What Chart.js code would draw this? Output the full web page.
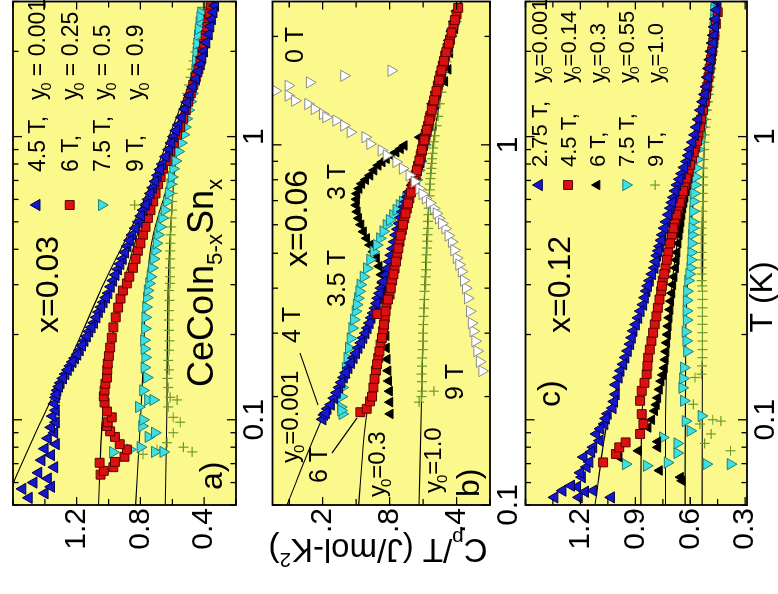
<!DOCTYPE html>
<html>
<head>
<meta charset="utf-8">
<script src="https://cdn.jsdelivr.net/npm/chart.js@4.4.1/dist/chart.umd.min.js"></script>
<style>
html,body{margin:0;padding:0;background:#fff;overflow:hidden;width:778px;height:594px}
#view{position:absolute;left:0;top:0;width:778px;height:594px;overflow:hidden;background:#fff}
#frame{position:absolute;left:0;top:0;width:600px;height:778px;transform-origin:0 0;transform:translate(0px,594px) rotate(-90deg)}
#frame canvas{position:absolute;left:0}
</style>
</head>
<body>
<div id="view"><div id="frame">
<canvas id="cA" width="600" height="265" style="top:0px"></canvas>
<canvas id="cB" width="600" height="253" style="top:265px"></canvas>
<canvas id="cC" width="600" height="260" style="top:518px"></canvas>
</div></div>
<script>
// ================= DATA (T in K, Cp/T in J/mol-K^2) =================
// ---- panel a : x = 0.03 ----
const A_SERIES = ['4.5 T', '6 T', '7.5 T', '9 T'];
const A_Y0 = ['0.001', '0.25', '0.5', '0.9'];
const A_45T = [[0.053,1.50],[0.055,1.40],[0.057,1.54],[0.058,1.36],[0.060,1.47],[0.062,1.38],[0.065,1.44],[0.068,1.34],[0.072,1.42],[0.075,1.36],[0.079,1.40],[0.082,1.33],[0.086,1.38],[0.090,1.34],[0.094,1.36],[0.098,1.33],[0.103,1.35],[0.108,1.33],[0.114,1.34],[0.120,1.33],[0.127,1.32],[0.135,1.30],[0.145,1.27],[0.155,1.24],[0.165,1.21],[0.176,1.18],[0.190,1.15],[0.205,1.12],[0.220,1.09],[0.240,1.06],[0.260,1.03],[0.280,1.00],[0.310,0.97],[0.340,0.94],[0.370,0.91],[0.410,0.88],[0.450,0.85],[0.500,0.81],[0.550,0.78],[0.600,0.75],[0.660,0.72],[0.730,0.69],[0.800,0.66],[0.900,0.62],[1.000,0.59],[1.100,0.56],[1.250,0.52],[1.400,0.49],[1.600,0.45],[1.800,0.42],[2.000,0.40],[2.300,0.37],[2.600,0.35],[2.900,0.33],
  [0.123,1.325],[0.131,1.31],[0.140,1.285],[0.150,1.255],[0.160,1.225],[0.170,1.195],[0.183,1.165],[0.197,1.135],[0.212,1.105],[0.230,1.075],[0.250,1.045],[0.270,1.015],[0.295,0.985],[0.325,0.955],[0.355,0.925],[0.39,0.895],[0.43,0.865],[0.475,0.83],[0.525,0.795],[0.575,0.765],[0.63,0.735],[0.695,0.705],[0.765,0.675],[0.85,0.64],[0.95,0.605],[1.05,0.575],[1.17,0.54],[1.32,0.505],[1.5,0.47],[1.7,0.435],[1.9,0.41],[2.15,0.385],[2.45,0.36],[2.75,0.34]];
const A_6T = [[0.064,1.05],[0.066,1.03],[0.068,0.97],[0.0705,1.056],[0.071,0.96],[0.074,0.90],[0.0785,0.885],[0.082,0.93],[0.087,0.96],[0.091,0.99],[0.095,1.01],[0.098,1.005],[0.102,0.98],[0.107,1.01],[0.115,1.025],[0.121,1.03],[0.127,1.025],[0.134,1.02],[0.141,1.01],[0.150,1.008],[0.158,1.005],[0.168,0.998],[0.180,0.99],[0.195,0.98],[0.212,0.97],[0.230,0.955],[0.249,0.94],[0.268,0.925],[0.286,0.91],[0.303,0.885],[0.344,0.847],[0.395,0.816],[0.450,0.784],[0.516,0.753],[0.590,0.72],[0.679,0.689],[0.770,0.658],[0.886,0.613],[1.016,0.57],[1.156,0.531],[1.327,0.50],[1.522,0.468],[1.730,0.436],[1.988,0.411],[2.280,0.39],[2.594,0.373],[2.860,0.36],
  [0.32,0.87],[0.37,0.83],[0.42,0.80],[0.48,0.768],[0.55,0.737],[0.63,0.705],[0.72,0.673],[0.82,0.635],[0.95,0.59],[1.08,0.55],[1.24,0.515],[1.42,0.484],[1.62,0.452],[1.85,0.423],[2.13,0.40],[2.44,0.38],[2.72,0.366]];
const A_75T = [[0.0768,0.973],[0.0785,0.866],[0.080,0.80],[0.077,0.71],[0.077,0.657],[0.087,0.75],[0.090,0.71],[0.095,0.79],[0.100,0.784],[0.111,0.81],[0.1175,0.753],[0.1175,0.72],[0.127,0.784],[0.141,0.76],[0.153,0.775],[0.166,0.77],[0.178,0.775],[0.191,0.778],[0.210,0.772],[0.230,0.77],[0.250,0.765],[0.270,0.76],[0.286,0.755],[0.303,0.746],[0.344,0.728],[0.395,0.708],[0.450,0.69],[0.516,0.664],[0.590,0.634],[0.679,0.613],[0.770,0.595],[0.886,0.563],[1.016,0.53],[1.156,0.512],[1.330,0.487],[1.522,0.468],[1.730,0.455],[1.988,0.449],[2.280,0.44],[2.532,0.43],[2.740,0.42],
  [0.32,0.737],[0.37,0.718],[0.42,0.699],[0.48,0.677],[0.55,0.649],[0.63,0.623],[0.72,0.604],[0.82,0.58],[0.95,0.546],[1.08,0.521],[1.24,0.50],[1.42,0.477],[1.62,0.461],[1.85,0.452],[2.13,0.445],[2.4,0.435],[2.64,0.425]];
const A_9T = [[0.0755,0.784],[0.0785,0.696],[0.083,0.633],[0.090,0.594],[0.080,0.53],[0.077,0.475],[0.098,0.55],[0.102,0.594],[0.111,0.626],[0.1175,0.57],[0.120,0.613],[0.130,0.626],[0.140,0.63],[0.150,0.62],[0.162,0.625],[0.176,0.62],[0.190,0.618],[0.207,0.62],[0.225,0.622],[0.243,0.62],[0.264,0.618],[0.286,0.62],[0.303,0.614],[0.344,0.614],[0.395,0.612],[0.450,0.61],[0.516,0.605],[0.590,0.60],[0.679,0.595],[0.770,0.59],[0.886,0.575],[1.016,0.56],[1.156,0.54],[1.330,0.52],[1.522,0.495],[1.730,0.475],[1.988,0.455],[2.280,0.436],[2.600,0.42],[2.860,0.405],
  [0.32,0.614],[0.37,0.613],[0.42,0.611],[0.48,0.607],[0.55,0.602],[0.63,0.597],[0.72,0.593],[0.82,0.583],[0.95,0.568],[1.08,0.55],[1.24,0.53],[1.42,0.507],[1.62,0.485],[1.85,0.465],[2.13,0.445],[2.44,0.428],[2.72,0.412]];
const A_FIT_0001 = [[0.05,1.66],[0.1,1.42],[0.176,1.215],[0.286,1.05],[0.59,0.78],[1.0,0.62],[1.56,0.49],[2.15,0.41],[3.0,0.34]];
const A_FIT_025 = [[0.05,1.063],[0.1,1.04],[0.146,1.012],[0.264,0.93],[0.45,0.82],[0.77,0.676],[1.33,0.52],[1.99,0.42],[3.0,0.345]];
const A_FIT_05 = [[0.05,0.83],[0.1,0.80],[0.166,0.78],[0.286,0.765],[0.45,0.72],[0.59,0.66],[0.886,0.57],[1.33,0.49],[1.99,0.40],[3.0,0.345]];
const A_FIT_09 = [[0.05,0.644],[0.1,0.635],[0.286,0.626],[0.59,0.60],[0.886,0.57],[1.33,0.51],[1.99,0.42],[3.0,0.345]];

// ---- panel b : x = 0.06 ----
const B_0T = [[1.607,0.79],[1.555,1.073],[1.49,1.278],[1.46,1.405],[1.413,1.483],[1.37,1.405],[1.326,1.366],[1.298,1.288],[1.257,1.249],[1.218,1.20],[1.193,1.18],[1.168,1.12],[1.131,1.073],[1.084,1.034],[1.05,0.946],[1.006,0.917],[0.965,0.849],[0.935,0.819],[0.896,0.761],[0.859,0.722],[0.823,0.682],[0.756,0.624],[0.71,0.585],[0.666,0.536],[0.625,0.507],[0.586,0.468],[0.538,0.429],[0.485,0.40],[0.445,0.37],[0.40,0.345],[0.375,0.333],[0.345,0.321],[0.304,0.30],[0.2675,0.277],[0.2355,0.247],
  [0.42,0.357],[0.465,0.385],[0.51,0.415],[0.56,0.449],[0.605,0.488],[0.645,0.52],[0.69,0.56],[0.73,0.605],[0.79,0.652],[0.32,0.31],[0.285,0.289],[0.25,0.262]];
const B_3T = [[0.179,0.796],[0.207,0.80],[0.236,0.809],[0.273,0.819],[0.317,0.823],[0.368,0.829],[0.392,0.839],[0.436,0.849],[0.484,0.878],[0.527,0.917],[0.574,0.956],[0.625,0.985],[0.68,0.999],[0.732,0.995],[0.78,0.966],[0.823,0.917],[0.877,0.868],[0.915,0.819],[0.954,0.761],[0.996,0.712],[1.05,0.62],[1.1,0.58],[1.2,0.55],[1.5,0.47],[1.62,0.45],[1.8,0.44],[2.1,0.41],
  [0.193,0.798],[0.221,0.805],[0.254,0.814],[0.295,0.821],[0.342,0.826],[0.38,0.834],[0.414,0.844],[0.46,0.862],[0.505,0.897],[0.55,0.937],[0.6,0.971],[0.652,0.993],[0.706,0.998],[0.756,0.982],[0.8,0.943],[0.85,0.893],[0.896,0.844],[0.935,0.79],[0.975,0.735]];
const B_35T = [[0.179,1.083],[0.187,1.092],[0.212,1.083],[0.24,1.063],[0.273,1.044],[0.31,1.024],[0.345,1.004],[0.375,0.99],[0.409,0.975],[0.454,0.937],[0.505,0.897],[0.55,0.858],[0.599,0.819],[0.638,0.78],[0.68,0.741],[0.71,0.702],[0.74,0.663],[0.8,0.64],[0.9,0.615],[1.1,0.57],[1.4,0.52],[1.8,0.46],[2.2,0.41],
  [0.183,1.09],[0.2,1.088],[0.226,1.073],[0.256,1.053],[0.29,1.034],[0.327,1.014],[0.36,0.997],[0.392,0.982],[0.43,0.956],[0.48,0.917],[0.527,0.877],[0.575,0.838],[0.618,0.80],[0.66,0.76],[0.695,0.722],[0.725,0.683],[0.77,0.652],[0.85,0.627],[1.0,0.59],[1.25,0.545],[1.6,0.49],[2.0,0.435]];
const B_4T = [[0.173,1.20],[0.178,1.19],[0.185,1.17],[0.198,1.131],[0.212,1.10],[0.226,1.073],[0.24,1.045],[0.256,1.014],[0.273,0.985],[0.291,0.956],[0.31,0.93],[0.331,0.907],[0.352,0.885],[0.375,0.868],[0.40,0.849],[0.435,0.825],[0.474,0.80],[0.515,0.78],[0.562,0.761],[0.605,0.74],[0.652,0.722],[0.695,0.70],[0.74,0.682],[0.806,0.644],[0.896,0.614],[0.97,0.60],[1.04,0.585],[1.15,0.56],[1.3,0.54],[1.5,0.50],[1.7,0.47],[1.95,0.44],[2.2,0.41],
  [0.18,1.18],[0.19,1.15],[0.205,1.115],[0.219,1.087],[0.233,1.06],[0.248,1.03],[0.264,1.0],[0.282,0.97],[0.30,0.943],[0.32,0.918],[0.341,0.896],[0.363,0.876],[0.387,0.858],[0.417,0.837],[0.454,0.812],[0.494,0.79],[0.538,0.77],[0.583,0.75],[0.628,0.731],[0.673,0.711],[0.717,0.691],[0.772,0.663],[0.85,0.63],[0.93,0.607],[1.0,0.593],[1.09,0.573],[1.22,0.55],[1.4,0.52],[1.6,0.485],[1.82,0.455],[2.07,0.425],[2.35,0.395]];
const B_6T = [[0.181,0.975],[0.185,0.937],[0.194,0.917],[0.212,0.897],[0.236,0.882],[0.256,0.868],[0.279,0.854],[0.304,0.839],[0.331,0.829],[0.339,0.874],[0.36,0.819],[0.384,0.80],[0.42,0.785],[0.454,0.77],[0.495,0.755],[0.538,0.741],[0.58,0.727],[0.625,0.712],[0.665,0.697],[0.71,0.682],[0.765,0.663],[0.823,0.644],[0.875,0.63],[0.935,0.614],[1.0,0.60],[1.06,0.585],[1.13,0.57],[1.205,0.556],[1.29,0.54],[1.37,0.527],[1.46,0.512],[1.555,0.497],[1.66,0.482],[1.764,0.468],[1.86,0.454],[1.96,0.439],[2.14,0.419],[2.3,0.40],
  [0.2,0.905],[0.224,0.89],[0.246,0.875],[0.267,0.861],[0.291,0.846],[0.317,0.834],[0.345,0.824],[0.372,0.81],[0.40,0.793],[0.437,0.777],[0.474,0.762],[0.516,0.748],[0.56,0.734],[0.6,0.72],[0.645,0.705],[0.688,0.69],[0.737,0.673],[0.795,0.653],[0.85,0.637],[0.905,0.622],[0.968,0.607],[1.03,0.592],[1.1,0.578],[1.17,0.563],[1.25,0.548],[1.33,0.534],[1.41,0.52],[1.51,0.505],[1.61,0.49],[1.71,0.475],[1.81,0.461],[1.91,0.446],[2.05,0.43],[2.22,0.41],[2.4,0.39]];
const B_9T = [[0.193,0.624],[0.207,0.605],[0.207,0.536],[0.231,0.609],[0.256,0.605],[0.285,0.60],[0.317,0.599],[0.352,0.595],[0.392,0.591],[0.409,0.585],[0.45,0.582],[0.495,0.579],[0.54,0.575],[0.586,0.571],[0.64,0.568],[0.694,0.565],[0.75,0.56],[0.806,0.556],[0.86,0.55],[0.915,0.546],[0.98,0.54],[1.06,0.53],[1.2,0.51],[1.4,0.49],[1.6,0.47],[1.8,0.45],[2.0,0.43],[2.2,0.41],
  [0.2,0.61],[0.22,0.607],[0.243,0.607],[0.27,0.602],[0.3,0.6],[0.334,0.597],[0.372,0.593],[0.43,0.584],[0.472,0.58],[0.517,0.577],[0.563,0.573],[0.613,0.57],[0.667,0.566],[0.722,0.562],[0.778,0.558],[0.833,0.553],[0.888,0.548],[0.947,0.543],[1.02,0.535],[1.13,0.52],[1.3,0.50],[1.5,0.48],[1.7,0.46],[1.9,0.44],[2.1,0.42],[2.35,0.4]];
const B_FIT_0001 = [[0.1,1.414],[0.175,1.20],[0.3,0.96],[0.5,0.79],[0.8,0.65],[1.2,0.55],[1.8,0.45],[2.5,0.37]];
const B_FIT_03 = [[0.1,0.985],[0.179,0.937],[0.3,0.84],[0.5,0.75],[0.8,0.65],[1.2,0.555],[1.8,0.455],[2.5,0.375]];
const B_FIT_10 = [[0.1,0.624],[0.194,0.609],[0.4,0.59],[0.7,0.565],[1.0,0.54],[1.5,0.48],[2.0,0.43],[2.5,0.375]];

// ---- panel c : x = 0.12 ----
const C_SERIES = ['2.75 T', '4.5 T', '6 T', '7.5 T', '9 T'];
const C_Y0 = ['0.001', '0.14', '0.3', '0.55', '1.0'];
const C_275T = [[0.0532,1.341],[0.0562,1.297],[0.058,1.217],[0.0532,1.208],[0.0557,1.174],[0.0562,1.129],[0.0532,1.032],[0.0627,1.191],[0.0681,1.165],[0.0738,1.182],[0.080,1.129],[0.0844,1.094],[0.0891,1.112],[0.0967,1.068],[0.105,1.05],[0.110,1.023],[0.123,1.006],[0.133,1.006],[0.149,0.98],[0.166,0.953],[0.185,0.927],[0.206,0.909],[0.229,0.883],[0.255,0.856],[0.285,0.838],[0.31,0.82],[0.344,0.794],[0.38,0.78],[0.41,0.765],[0.45,0.75],[0.5,0.73],[0.559,0.706],[0.61,0.69],[0.675,0.67],[0.74,0.645],[0.817,0.618],[0.9,0.60],[1.014,0.574],[1.15,0.555],[1.328,0.53],[1.5,0.51],[1.74,0.494],[2.0,0.48],[2.28,0.468],[2.6,0.46],[2.99,0.45],
  [0.0585,1.25],[0.065,1.2],[0.071,1.15],[0.077,1.14],[0.093,1.09],[0.101,1.06],[0.116,1.015],[0.141,0.99],[0.157,0.965],[0.175,0.94],[0.195,0.918],[0.217,0.896],[0.242,0.87],[0.27,0.847],[0.297,0.83],[0.327,0.807],[0.362,0.787],[0.395,0.772],[0.43,0.757],[0.475,0.74],[0.53,0.718],[0.585,0.698],[0.643,0.68],[0.707,0.657],[0.778,0.632],[0.858,0.609],[0.955,0.587],[1.08,0.565],[1.24,0.542],[1.41,0.52],[1.62,0.502],[1.87,0.487],[2.14,0.474],[2.44,0.464],[2.8,0.455]];
const C_45T = [[0.0707,1.076],[0.0757,1.006],[0.0799,0.988],[0.0832,0.953],[0.0891,0.874],[0.0966,0.856],[0.1047,0.865],[0.1167,0.874],[0.1265,0.865],[0.1449,0.838],[0.1657,0.83],[0.1897,0.812],[0.2173,0.794],[0.2485,0.777],[0.2845,0.759],[0.31,0.75],[0.344,0.735],[0.39,0.72],[0.45,0.70],[0.5,0.685],[0.559,0.665],[0.61,0.648],[0.675,0.63],[0.75,0.61],[0.839,0.59],[0.92,0.572],[1.014,0.555],[1.15,0.54],[1.328,0.521],[1.5,0.507],[1.74,0.494],[2.0,0.48],[2.28,0.468],[2.75,0.45],
  [0.135,0.85],[0.155,0.834],[0.177,0.821],[0.203,0.803],[0.232,0.785],[0.266,0.768],[0.297,0.755],[0.327,0.742],[0.367,0.728],[0.42,0.71],[0.475,0.692],[0.53,0.675],[0.585,0.657],[0.643,0.639],[0.712,0.62],[0.795,0.6],[0.88,0.581],[0.965,0.563],[1.08,0.547],[1.24,0.53],[1.41,0.514],[1.62,0.5],[1.87,0.487],[2.14,0.474],[2.5,0.46]];
const C_6T = [[0.0738,0.988],[0.0777,0.883],[0.0799,0.777],[0.0837,0.777],[0.0662,0.768],[0.0627,0.653],[0.0609,0.644],[0.0939,0.83],[0.1075,0.794],[0.1195,0.777],[0.1369,0.759],[0.1524,0.741],[0.1742,0.732],[0.1999,0.724],[0.2293,0.715],[0.2624,0.706],[0.30,0.695],[0.344,0.68],[0.39,0.672],[0.45,0.66],[0.5,0.65],[0.559,0.64],[0.61,0.628],[0.675,0.615],[0.75,0.60],[0.839,0.585],[0.92,0.57],[1.014,0.556],[1.15,0.54],[1.328,0.53],[1.5,0.515],[1.74,0.503],[2.0,0.49],[2.28,0.477],[2.6,0.465],
  [0.1,0.81],[0.113,0.785],[0.128,0.768],[0.144,0.75],[0.163,0.736],[0.187,0.728],[0.214,0.72],[0.245,0.71],[0.28,0.70],[0.32,0.688],[0.367,0.676],[0.42,0.666],[0.475,0.655],[0.53,0.645],[0.585,0.634],[0.643,0.621],[0.712,0.607],[0.795,0.592],[0.88,0.577],[0.965,0.563],[1.08,0.548],[1.24,0.535],[1.41,0.522],[1.62,0.509],[1.87,0.496],[2.14,0.483],[2.44,0.471]];
const C_75T = [[0.0697,0.953],[0.0688,0.838],[0.0706,0.724],[0.0763,0.671],[0.0866,0.75],[0.0914,0.60],[0.0825,0.671],[0.0989,0.626],[0.1032,0.539],[0.1167,0.635],[0.1297,0.644],[0.14,0.64],[0.1528,0.635],[0.1742,0.618],[0.19,0.622],[0.2047,0.626],[0.225,0.62],[0.2423,0.621],[0.264,0.62],[0.2845,0.618],[0.0697,0.512],[0.0697,0.38],[0.31,0.612],[0.344,0.60],[0.39,0.595],[0.45,0.591],[0.5,0.587],[0.59,0.583],[0.675,0.575],[0.774,0.568],[0.9,0.556],[1.014,0.547],[1.15,0.535],[1.328,0.521],[1.5,0.507],[1.74,0.494],[2.0,0.485],[2.28,0.477],[2.6,0.472],[2.99,0.468],
  [0.327,0.606],[0.367,0.598],[0.42,0.593],[0.475,0.589],[0.545,0.585],[0.63,0.579],[0.72,0.571],[0.83,0.562],[0.955,0.551],[1.08,0.541],[1.24,0.528],[1.41,0.514],[1.62,0.5],[1.87,0.49],[2.14,0.481],[2.44,0.474],[2.8,0.47]];
const C_9T = [[0.141,0.574],[0.0989,0.433],[0.0891,0.486],[0.0825,0.521],[0.0777,0.38],[0.0966,0.547],[0.1,0.477],[0.1134,0.583],[0.1449,0.539],[0.1657,0.533],[0.1897,0.533],[0.2173,0.533],[0.2485,0.533],[0.2845,0.533],[0.31,0.537],[0.344,0.539],[0.39,0.539],[0.45,0.539],[0.5,0.536],[0.59,0.533],[0.675,0.531],[0.774,0.53],[0.9,0.525],[1.014,0.521],[1.15,0.512],[1.328,0.503],[1.5,0.495],[1.74,0.486],[2.0,0.477],[2.28,0.468],[2.6,0.46],
  [0.155,0.536],[0.177,0.533],[0.203,0.533],[0.232,0.533],[0.266,0.533],[0.297,0.535],[0.327,0.538],[0.367,0.539],[0.42,0.539],[0.475,0.538],[0.545,0.535],[0.63,0.532],[0.72,0.531],[0.83,0.528],[0.955,0.523],[1.08,0.517],[1.24,0.508],[1.41,0.499],[1.62,0.49],[1.87,0.481],[2.14,0.472],[2.44,0.464]];
const C_FIT_0001 = [[0.05,1.12],[0.1,1.05],[0.2,0.91],[0.4,0.77],[0.7,0.66],[1.0,0.585],[1.5,0.515],[2.2,0.47],[3.0,0.45]];
const C_FIT_014 = [[0.05,0.87],[0.1,0.865],[0.15,0.84],[0.25,0.78],[0.4,0.71],[0.7,0.63],[1.0,0.57],[1.5,0.515],[2.2,0.475],[3.0,0.45]];
const C_FIT_03 = [[0.05,0.735],[0.1,0.735],[0.2,0.72],[0.3,0.70],[0.5,0.655],[0.8,0.60],[1.2,0.55],[2.0,0.49],[3.0,0.455]];
const C_FIT_055 = [[0.05,0.628],[0.2,0.625],[0.4,0.605],[0.7,0.575],[1.0,0.55],[1.5,0.515],[2.2,0.485],[3.0,0.465]];
const C_FIT_10 = [[0.05,0.535],[0.3,0.533],[0.6,0.53],[1.0,0.52],[1.5,0.50],[2.2,0.48],[3.0,0.465]];

// ---- ticks ----
const T_LABELS = [0.1, 1];
const T_MINOR = [0.05,0.06,0.07,0.08,0.09,0.2,0.3,0.4,0.5,0.6,0.7,0.8,0.9,2,3];
const CP_LABELS_A = [0.4, 0.8, 1.2];
const CP_MINOR_A = [0.2, 0.6, 1.0, 1.4, 1.6];
const CP_LABELS_B = [0.4, 0.8, 1.2];
const CP_MINOR_B = [0.2, 0.6, 1.0, 1.4];
const CP_LABELS_C = [0.3, 0.6, 0.9, 1.2];
const CP_MINOR_C = [0.45, 0.75, 1.05, 1.35, 1.5];

// ================= STYLE =================
const FONT = '"Liberation Sans", Arial, Helvetica, sans-serif';
const YELLOW = '#fcf98c';
const ST = {
  blue:  {pointStyle:'triangle', pointRotation:0,   pointRadius:6.5, backgroundColor:'#1717cc', borderColor:'#00004a', pointBorderWidth:1},
  red:   {pointStyle:'rect',     pointRotation:0,   pointRadius:6.3, backgroundColor:'#dd1010', borderColor:'#5a0000', pointBorderWidth:1},
  cyan:  {pointStyle:'triangle', pointRotation:180, pointRadius:6.5, backgroundColor:'#3fdfdf', borderColor:'#1d7f80', pointBorderWidth:1},
  black: {pointStyle:'triangle', pointRotation:0,   pointRadius:5.5, backgroundColor:'#000000', borderColor:'#000000', pointBorderWidth:1},
  green: {pointStyle:'cross',    pointRotation:0,   pointRadius:5,   backgroundColor:'#6e9a2e', borderColor:'#6e9a2e', pointBorderWidth:1.2},
  white: {pointStyle:'triangle', pointRotation:180, pointRadius:6.5, backgroundColor:'#ffffff', borderColor:'#8c8c8c', pointBorderWidth:1}
};
const toXY = d => d.map(p => ({x:p[0], y:p[1]}));
const sc = (d, s) => Object.assign({data:toXY(d), showLine:false, clip:0, pointHoverRadius:6}, s);
const fit = d => ({data:toXY(d), showLine:true, pointRadius:0, borderColor:'#000', borderWidth:1.1, cubicInterpolationMode:'monotone', clip:0, fill:false});

function setFont(ctx, size){ ctx.font = size + 'px ' + FONT; }
function rich(ctx, parts, x, y, size){
  parts.forEach(p => {
    const kind = p[1] || '', dx = p[2] || 0;
    let s = size, yy = y;
    if (kind === 'sub'){ s = size*0.62; yy = y + size*0.24; }
    if (kind === 'sup'){ s = size*0.62; yy = y - size*0.42; }
    x += dx;
    setFont(ctx, s);
    ctx.fillText(p[0], x, yy);
    x += ctx.measureText(p[0]).width;
  });
  return x;
}
function richWidth(ctx, parts, size){
  let w = 0;
  parts.forEach(p => { const kind = p[1]||''; const s = kind ? size*0.62 : size; setFont(ctx, s); w += ctx.measureText(p[0]).width + (p[2]||0); });
  return w;
}
const Y0 = (rest) => [['y',''],['0','sub',-2],[rest,'']];

function xScale(min, max, h){
  return {type:'logarithmic', position:'bottom', min:min, max:max,
    afterBuildTicks: s => { s.ticks = T_LABELS.map(v => ({value:v})); },
    afterFit: s => { s.height = h; s.paddingLeft = 0; s.paddingRight = 0; },
    ticks:{autoSkip:false, maxRotation:0, minRotation:0, padding:1, color:'#000', font:{family:FONT, size:30},
      callback: v => String(v)},
    grid:{display:false, drawTicks:false}, border:{display:false}};
}
function yScale(min, max, labels){
  return {type:'linear', position:'left', min:min, max:max,
    afterBuildTicks: s => { s.ticks = labels.map(v => ({value:v})); },
    afterFit: s => { s.width = 89; s.paddingTop = 0; s.paddingBottom = 0; },
    ticks:{autoSkip:false, padding:3, color:'#000', font:{family:FONT, size:30}, callback: v => v.toFixed(1)},
    grid:{display:false, drawTicks:false}, border:{display:false}};
}

function framePlugin(cfg){
  return {
    id:'frame' + cfg.name,
    beforeDatasetsDraw(chart){
      const {ctx, chartArea:a} = chart;
      ctx.save(); ctx.fillStyle = YELLOW;
      ctx.fillRect(a.left, a.top, a.right-a.left, a.bottom-a.top);
      ctx.restore();
    },
    afterDraw(chart){
      const {ctx, chartArea:a} = chart;
      const xs = chart.scales.x, ys = chart.scales.y;
      ctx.save();
      ctx.strokeStyle = '#000'; ctx.lineWidth = 1.3;
      ctx.beginPath();
      const L = (x1,y1,x2,y2) => { ctx.moveTo(x1,y1); ctx.lineTo(x2,y2); };
      T_LABELS.concat(T_MINOR).forEach(v => {
        if (v < xs.min || v > xs.max) return;
        const p = xs.getPixelForValue(v), len = T_LABELS.includes(v) ? 9 : 5.5;
        L(p, a.bottom, p, a.bottom-len); L(p, a.top, p, a.top+len);
      });
      cfg.yLabels.concat(cfg.yMinor).forEach(v => {
        const p = ys.getPixelForValue(v), len = cfg.yLabels.includes(v) ? 8 : 6;
        L(a.left, p, a.left+len, p); L(a.right, p, a.right-len, p);
      });
      (cfg.leaders||[]).forEach(l => L(l[0], l[1], l[2], l[3]));
      ctx.stroke();
      ctx.lineWidth = 1.8;
      ctx.strokeRect(a.left, a.top, a.right-a.left, a.bottom-a.top);
      ctx.fillStyle = '#000'; ctx.textBaseline = 'alphabetic'; ctx.textAlign = 'left';
      (cfg.texts||[]).forEach(t => rich(ctx, t.parts, t.u, t.v, t.size));
      if (cfg.legend){
        const g = cfg.legend;
        g.names.forEach((name, i) => {
          const ds = chart.data.datasets[i];
          const v = g.v[i];
          ctx.save();
          ctx.fillStyle = ds.backgroundColor; ctx.strokeStyle = ds.borderColor; ctx.lineWidth = ds.pointBorderWidth;
          Chart.helpers.drawPoint(ctx, {pointStyle:ds.pointStyle, rotation:ds.pointRotation, radius:ds.pointRadius, borderWidth:ds.pointBorderWidth}, g.mu, v - g.size*0.36);
          ctx.restore();
          ctx.fillStyle = '#000';
          rich(ctx, [[name + ',', '']], g.tu, v, g.size);
          rich(ctx, Y0(g.sep + g.y0[i]), g.yu, v, g.size);
        });
      }
      if (cfg.extra) cfg.extra(ctx, chart);
      ctx.restore();
    }
  };
}

function makeChart(id, datasets, xr, yr, pad, cfg){
  return new Chart(document.getElementById(id), {
    type:'scatter',
    data:{datasets:datasets},
    options:{responsive:false, animation:false, events:[],
      layout:{padding:{top:pad.top, left:0, right:5, bottom:0}},
      plugins:{legend:{display:false}, tooltip:{enabled:false}},
      scales:{x:xScale(xr[0], xr[1], pad.xh), y:yScale(yr[0], yr[1], cfg.yLabels)}},
    plugins:[framePlugin(cfg)]
  });
}

// ---------- panel a ----------
makeChart('cA', [
  sc(A_45T, ST.blue), sc(A_6T, ST.red), sc(A_75T, ST.cyan), sc(A_9T, ST.green),
  fit(A_FIT_0001), fit(A_FIT_025), fit(A_FIT_05), fit(A_FIT_09)
], [0.05, 3.0], [0.2, 1.6], {top:13, xh:29}, {
  name:'A', yLabels:CP_LABELS_A, yMinor:CP_MINOR_A,
  texts:[
    {parts:[['x=0.03','']], u:261, v:58, size:32},
    {parts:[['CeCoIn',''],['5-x','sub'],['Sn',''],['x','sub']], u:207, v:213, size:36},
    {parts:[['a)','']], u:104, v:222, size:32}
  ],
  legend:{names:A_SERIES, y0:A_Y0, sep:' = ', v:[45,78,110,143], mu:389, tu:422, yu:494, size:23}
});

// ---------- panel b ----------
makeChart('cB', [
  sc(B_0T, ST.white), sc(B_6T, ST.red), sc(B_4T, ST.blue), sc(B_35T, ST.cyan), sc(B_3T, ST.black), sc(B_9T, ST.green),
  fit(B_FIT_0001), fit(B_FIT_03), fit(B_FIT_10)
], [0.1, 2.5], [0.2, 1.5], {top:2, xh:28}, {
  name:'B', yLabels:CP_LABELS_B, yMinor:CP_MINOR_B,
  texts:[
    {parts:[['0 T','']], u:531, v:38, size:25},
    {parts:[['x=0.06','']], u:327, v:42, size:32},
    {parts:[['3 T','']], u:394, v:80, size:25},
    {parts:[['3.5 T','']], u:287, v:80, size:25},
    {parts:[['4 T','']], u:251, v:35, size:25},
    {parts:Y0('=0.001'), u:131, v:33, size:24},
    {parts:[['6 T','']], u:111, v:62, size:25},
    {parts:Y0('=0.3'), u:97, v:120, size:24},
    {parts:[['9 T','']], u:194, v:198, size:25},
    {parts:Y0('=1.0'), u:101, v:176, size:24},
    {parts:[['b)','']], u:97, v:214, size:32}
  ],
  leaders:[[241,35,189,53],[141,67,176,92]],
  extra:(ctx, chart) => {
    const parts = [['C',''],['p','sub'],['/T (J/mol-K',''],['2','sup'],[')','']];
    const size = 33;
    const w = richWidth(ctx, parts, size);
    ctx.save();
    ctx.translate(44, 113);
    ctx.rotate(-Math.PI/2);
    ctx.fillStyle = '#fff';
    ctx.fillRect(-w/2 - 2, -18, w + 4, 36);
    ctx.fillStyle = '#000';
    rich(ctx, parts, -w/2, 11, size);
    ctx.restore();
  }
});

// ---------- panel c ----------
makeChart('cC', [
  sc(C_275T, ST.blue), sc(C_45T, ST.red), sc(C_6T, ST.black), sc(C_75T, ST.cyan), sc(C_9T, ST.green),
  fit(C_FIT_0001), fit(C_FIT_014), fit(C_FIT_03), fit(C_FIT_055), fit(C_FIT_10)
], [0.05, 3.0], [0.29, 1.5], {top:0, xh:31}, {
  name:'C', yLabels:CP_LABELS_C, yMinor:CP_MINOR_C,
  texts:[
    {parts:[['c)','']], u:187, v:42, size:32},
    {parts:[['x=0.12','']], u:261, v:52, size:32}
  ],
  legend:{names:C_SERIES, y0:C_Y0, sep:'=', v:[29,58,87,116,145], mu:409, tu:427, yu:511, size:22},
  extra:(ctx, chart) => {
    setFont(ctx, 32); ctx.fillStyle = '#000'; ctx.textAlign = 'center';
    ctx.fillText('T (K)', 297, 254);
  }
});
</script>
</body>
</html>
